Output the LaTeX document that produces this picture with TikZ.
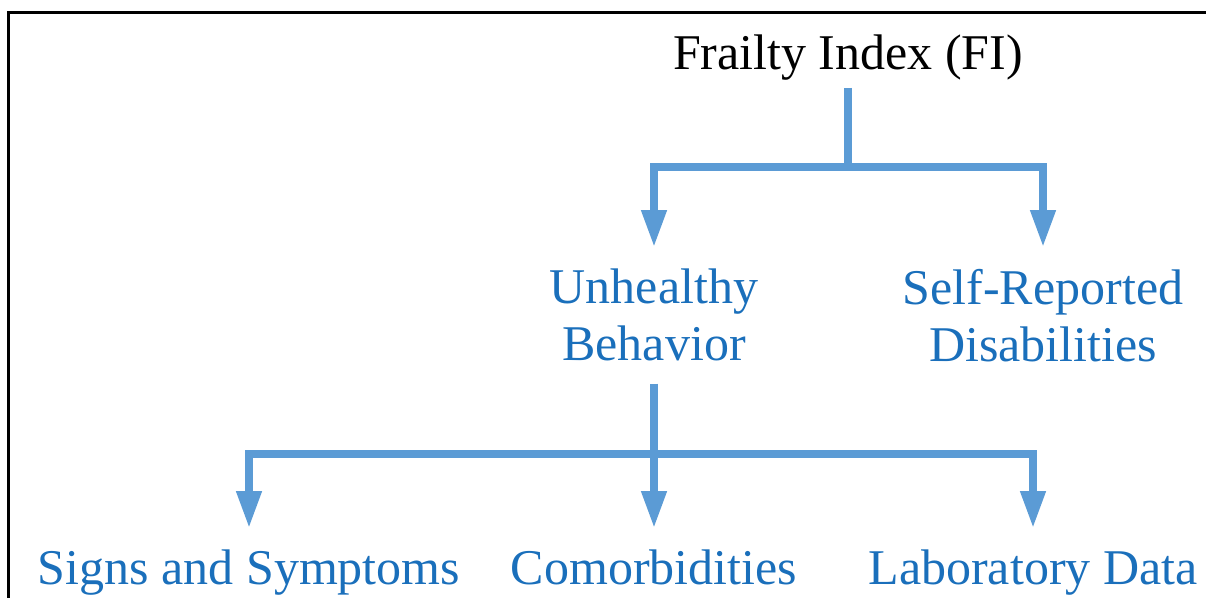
\documentclass[tikz,border=0pt]{standalone}
\usepackage{fontspec}
\setmainfont{Liberation Serif}
\usetikzlibrary{arrows.meta}
\definecolor{arrowblue}{RGB}{91,155,213}
\definecolor{textblue}{RGB}{26,111,187}
\tikzset{
  lbl/.style={font=\fontsize{50}{57}\selectfont, align=center, inner xsep=0pt, inner ysep=22pt},
  bluelbl/.style={lbl, text=textblue},
  conn/.style={draw=arrowblue, line width=7.5pt, line join=miter},
  arr/.style={conn, -{Triangle[width=24pt,length=37pt]}},
  frame/.style={draw=black, line width=3pt}
}
\begin{document}
\begin{tikzpicture}[x=1pt,y=1pt]
\useasboundingbox (0,0) rectangle (1206,-598);
\draw[frame] (1206,-12) -- (8,-12) -- (8,-598);

\node[lbl, anchor=base, inner ysep=8pt] (FI) at (848,-69) {Frailty Index (FI)};
\node[bluelbl, anchor=north] (UB) at (654,-247) {Unhealthy\\Behavior};
\node[bluelbl, anchor=north] (SR) at (1043,-247) {Self-Reported\\Disabilities};
\node[bluelbl, anchor=north] (SS) at (249,-528) {Signs and Symptoms};
\node[bluelbl, anchor=north] (CO) at (654,-528) {Comorbidities};
\node[bluelbl, anchor=north] (LD) at (1033,-528) {Laboratory Data};

\coordinate (j1) at (848,-167);
\coordinate (j2) at (654,-454);

\draw[conn] (FI.south) -- (j1);
\draw[arr] (j1) -| (UB.north);
\draw[arr] (j1) -| (SR.north);

\draw[arr] (UB.south) -- (CO.north);
\draw[arr] (j2) -| (SS.north);
\draw[arr] (j2) -| (LD.north);
\end{tikzpicture}
\end{document}
